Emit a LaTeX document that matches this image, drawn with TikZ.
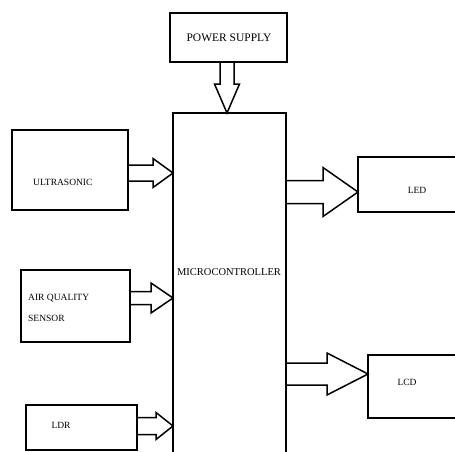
\documentclass[tikz,border=0pt]{standalone}
\usepackage{fontspec}
\setmainfont{Liberation Serif}
\usetikzlibrary{calc}
\newcommand\harr[5]{% start coord, tip coord, shaft half, head half, head length
  \draw[arr] ($(#1)+(0,-#3)$) -- ($(#2)+(-#5,-#3)$) -- ($(#2)+(-#5,-#4)$) -- (#2)
    -- ($(#2)+(-#5,#4)$) -- ($(#2)+(-#5,#3)$) -- ($(#1)+(0,#3)$);}
\begin{document}
\begin{tikzpicture}[x=1pt,y=-1pt,
  box/.style={draw,line width=1.6pt,inner sep=0pt,outer sep=0pt},
  lbl/.style={inner sep=0pt,font=\fontsize{9.5}{11}\selectfont},
  arr/.style={draw,line width=1.5pt,line join=miter}]
\useasboundingbox (0,0) rectangle (455,452);
\clip (0,0) rectangle (455,452);
% boxes
\node[box,minimum width=117pt,minimum height=49pt] (ps) at (228.5,37.5) {};
\node[box,minimum width=113pt,minimum height=357pt] (mcu) at (229.5,291.5) {};
\node[box,minimum width=116pt,minimum height=80pt] (ultra) at (70,170) {};
\node[box,minimum width=109pt,minimum height=72pt] (air) at (75.5,306) {};
\node[box,minimum width=111pt,minimum height=45pt] (ldr) at (81.5,427.5) {};
\node[box,minimum width=112pt,minimum height=55pt] (led) at (414,184.5) {};
\node[box,minimum width=112pt,minimum height=63pt] (lcd) at (424,386.5) {};
% labels
\node[lbl,font=\fontsize{11.5}{13}\selectfont] (tps) at (229,38) {POWER SUPPLY};
\node[lbl,font=\fontsize{10.5}{12}\selectfont] (tmcu) at (229,272) {MICROCONTROLLER};
\node[lbl,anchor=west] (tultra) at (33,182) {ULTRASONIC};
\node[lbl,anchor=west] (tair1) at (28,298) {AIR QUALITY};
\node[lbl,anchor=west] (tair2) at (28,318) {SENSOR};
\node[lbl] (tldr) at (61,425) {LDR};
\node[lbl] (tled) at (417,190) {LED};
\node[lbl] (tlcd) at (407,382) {LCD};
% arrow endpoints
\coordinate (u1) at (ultra.east |- 0,173);
\coordinate (u2) at (mcu.west |- 0,173);
\coordinate (a1) at (air.east |- 0,298);
\coordinate (a2) at (mcu.west |- 0,298);
\coordinate (l1) at (ldr.east |- 0,426);
\coordinate (l2) at (mcu.west |- 0,426);
\coordinate (e1) at (mcu.east |- 0,192);
\coordinate (e2) at (led.west |- 0,192);
\coordinate (c1) at (mcu.east |- 0,374);
\coordinate (c2) at (lcd.west |- 0,374);
\coordinate (p1) at (ps.south -| 227,0);
\coordinate (p2) at (mcu.north -| 227,0);
% arrows
\harr{u1}{u2}{8}{14.5}{20}
\harr{a1}{a2}{6.5}{15}{22}
\harr{l1}{l2}{8.5}{13.5}{17}
\harr{e1}{e2}{11.5}{24.5}{35}
\harr{c1}{c2}{11}{21}{41}
\draw[arr] ($(p1)+(-7,0)$) -- ($(p2)+(-7,-29)$) -- ($(p2)+(-12.5,-29)$) -- (p2)
  -- ($(p2)+(12.5,-29)$) -- ($(p2)+(7,-29)$) -- ($(p1)+(7,0)$);
\end{tikzpicture}
\end{document}
